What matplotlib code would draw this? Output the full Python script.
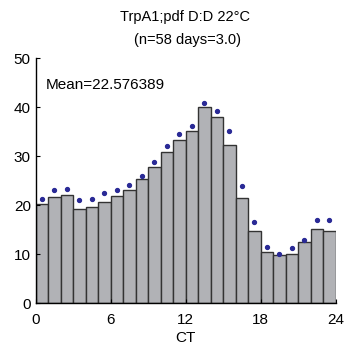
import matplotlib
matplotlib.use("Agg")
import matplotlib.pyplot as plt
import numpy as np

plt.rcParams['font.family'] = ['Liberation Sans', 'DejaVu Sans']

bins = np.arange(24)
bar_values = [20.2, 21.7, 22.1, 19.3, 19.7, 20.65, 21.9, 23.2, 25.3, 27.8, 30.8, 33.3,
              35.2, 40.1, 37.9, 32.3, 21.4, 14.8, 10.4, 9.8, 10.0, 12.5, 15.2, 14.7]
dot_values = [21.3, 23.2, 23.4, 21.0, 21.2, 22.4, 23.2, 24.1, 25.9, 28.8, 32.1, 34.6,
              36.1, 40.9, 39.2, 35.1, 24.0, 16.6, 11.4, 10.1, 11.2, 13.0, 16.9, 16.9]
xticks = [0, 6, 12, 18, 24]
yticks = [0, 10, 20, 30, 40, 50]

fig = plt.figure(figsize=(3.53, 3.54), dpi=100)
ax = fig.add_axes([0.101, 0.143, 0.85, 0.693])
ax.bar(bins, bar_values, width=1.0, align='edge', color='#b1b2b6', edgecolor='#333333', linewidth=1.0)
ax.plot(bins + 0.5, dot_values, 'o', color='#2a2a96', markersize=2.8, linestyle='none')

ax.set_xlim(0, 24)
ax.set_ylim(0, 50)
ax.set_xticks(xticks)
ax.set_yticks(yticks)
ax.tick_params(direction='in', length=3, labelsize=11, width=0.8)
ax.tick_params(axis='x', pad=7)
for s in ['top', 'right']:
    ax.spines[s].set_visible(False)
ax.spines['left'].set_linewidth(1.0)
ax.spines['bottom'].set_linewidth(1.0)
ax.set_xlabel('CT', fontsize=11, labelpad=3)
ax.text(0.8, 44.5, 'Mean=22.576389', fontsize=11, va='center', ha='left')
fig.text(0.525, 0.951, 'TrpA1;pdf D:D 22\u00b0C', ha='center', va='center', fontsize=10.5)
fig.text(0.53, 0.887, '(n=58 days=3.0)', ha='center', va='center', fontsize=10.5)

fig.savefig('out.png', dpi=100)
